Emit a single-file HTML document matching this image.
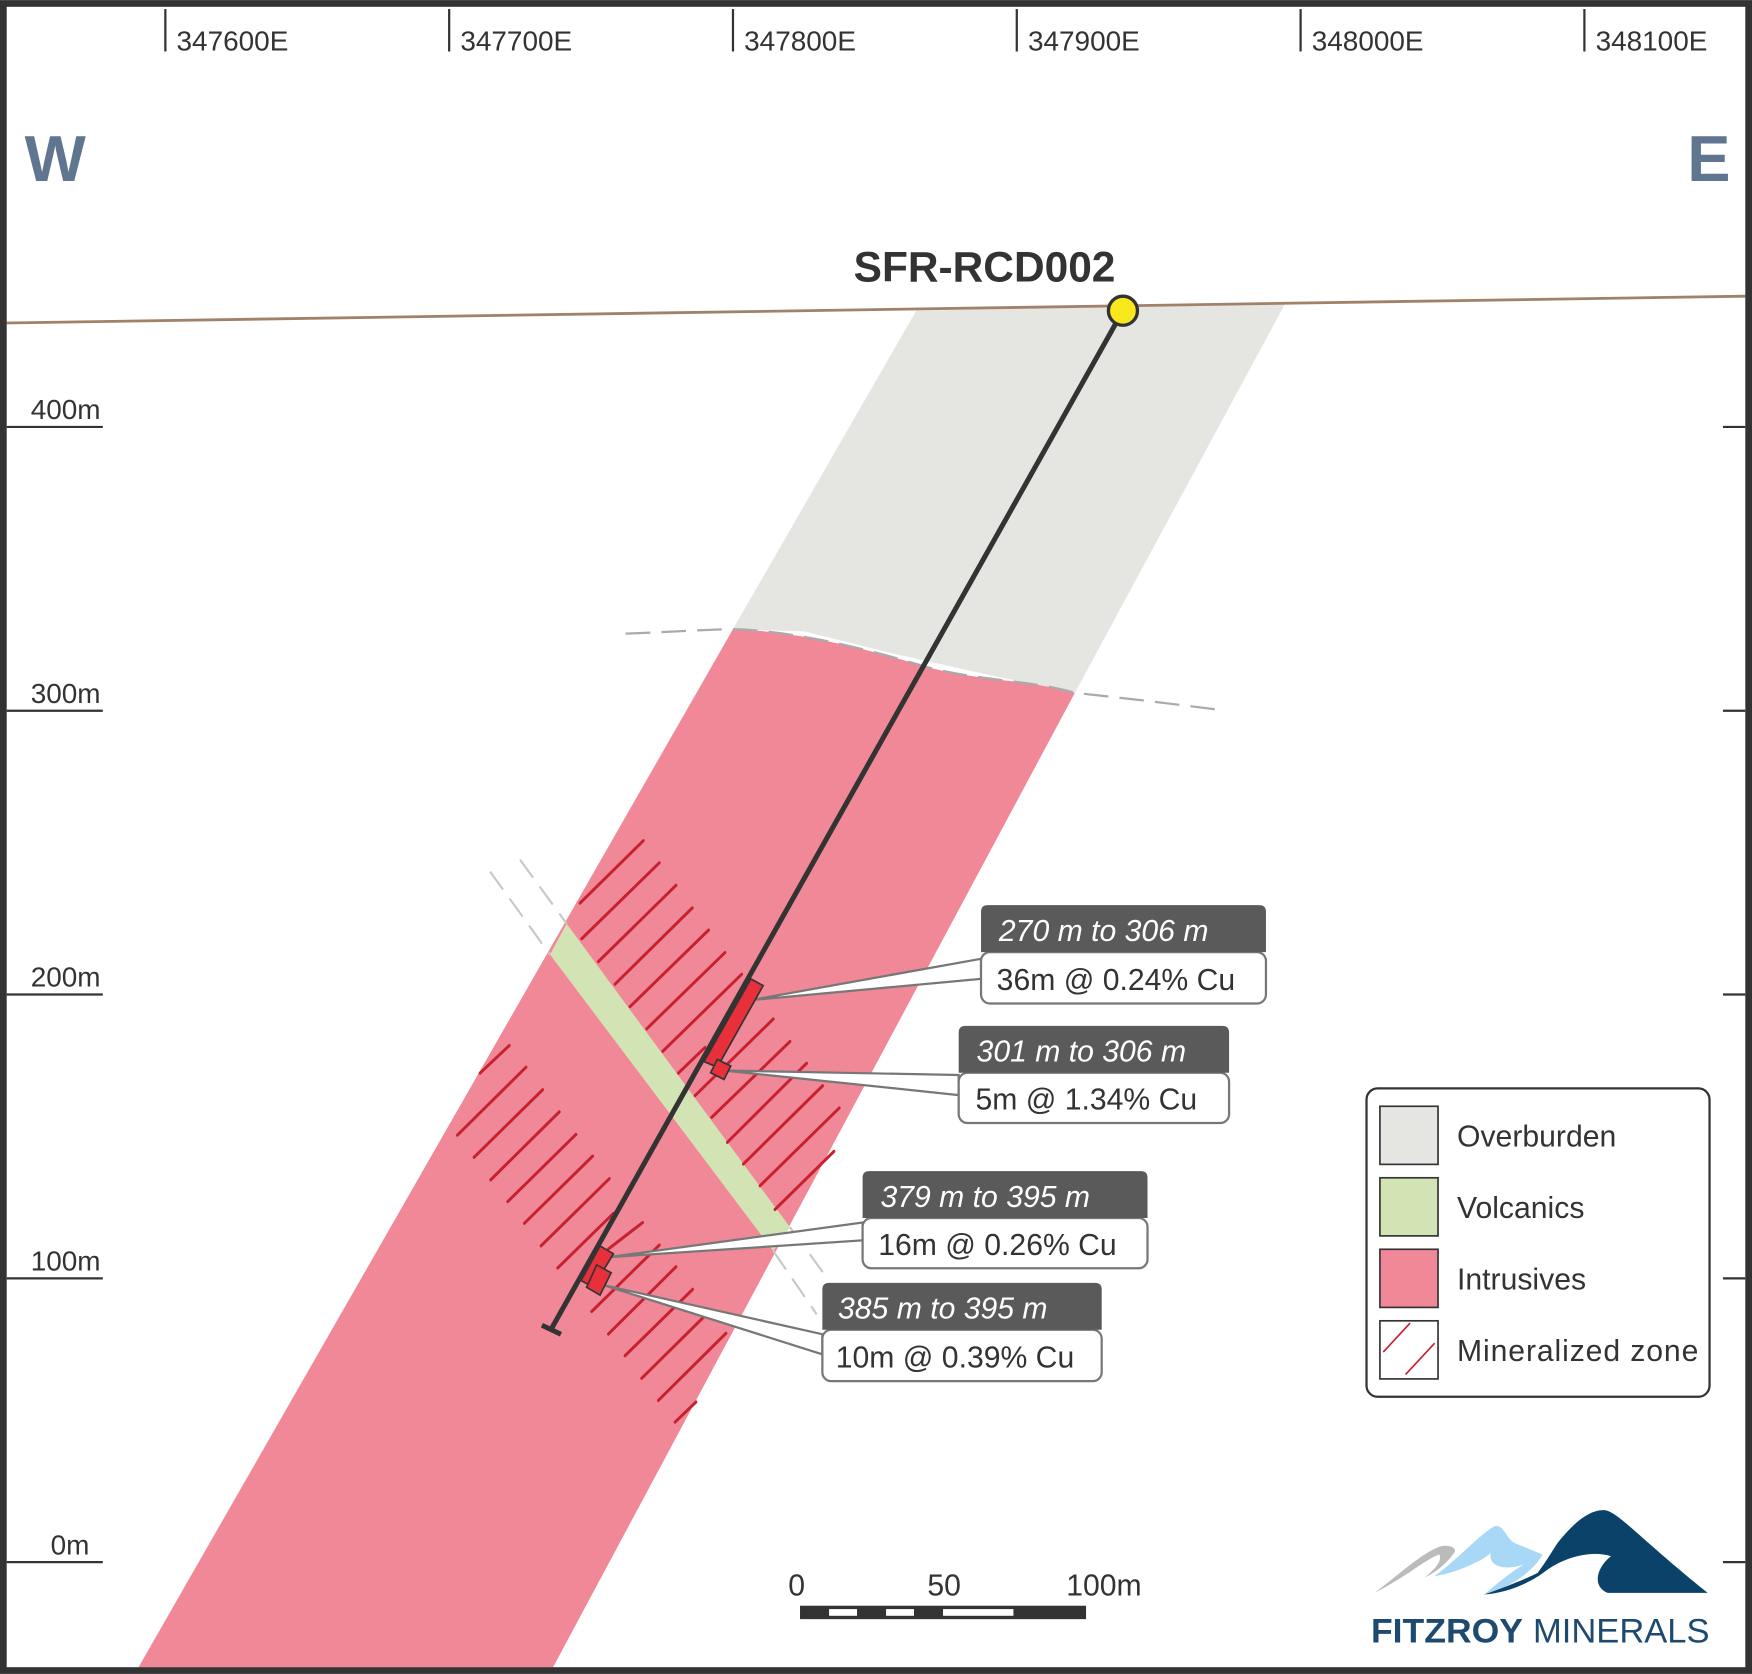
<!DOCTYPE html>
<html><head><meta charset="utf-8"><style>
html,body{margin:0;padding:0;background:#fff}
svg{display:block}
text{font-family:"Liberation Sans",sans-serif}
</style></head><body>
<svg width="1752" height="1674" viewBox="0 0 1568 1498" xmlns="http://www.w3.org/2000/svg">
<rect x="0" y="0" width="1568" height="1498" fill="#fff"/>
<g stroke="#333" stroke-width="2">
<line x1="148" y1="8" x2="148" y2="46"/><line x1="402" y1="8" x2="402" y2="46"/><line x1="656" y1="8" x2="656" y2="46"/><line x1="910" y1="8" x2="910" y2="46"/><line x1="1164" y1="8" x2="1164" y2="46"/><line x1="1418" y1="8" x2="1418" y2="46"/>
</g>
<g font-size="25" fill="#333">
<text x="158" y="45">347600E</text><text x="412" y="45">347700E</text><text x="666" y="45">347800E</text><text x="920" y="45">347900E</text><text x="1174" y="45">348000E</text><text x="1428" y="45">348100E</text>
</g>
<text x="22" y="162" font-size="58" font-weight="bold" fill="#5f7590">W</text>
<text x="1510" y="162" font-size="58" font-weight="bold" fill="#5f7590">E</text>
<polygon points="820,278 1150,272 962,620 890,605 800,585 720,565 656,563" fill="#e5e5e1"/>
<path d="M656,563 C720,565 790,585 830,597 C880,610 920,608 962,620 L495,1492 L124,1492 Z" fill="#f08898"/>
<path d="M560,567 C610,565 640,563 656,563 C720,565 790,585 830,597 C880,610 920,608 962,620 C1010,625 1050,630 1090,635" fill="none" stroke="#aaa" stroke-width="2" stroke-dasharray="22,10"/>
<g transform="scale(0.895) translate(440,820) scale(0.3333,0.3953)">
<polygon points="330,340 380,262 1050,1030 1000,1090" fill="#d3e4b4"/>
<g stroke="#c8c8c8" stroke-width="6" stroke-dasharray="60,30" fill="none">
<line x1="150" y1="130" x2="330" y2="340"/><line x1="240" y1="100" x2="380" y2="262"/>
<line x1="1000" y1="1090" x2="1130" y2="1250"/><line x1="1050" y1="1030" x2="1150" y2="1145"/>
</g>
<g stroke="#c8202e" stroke-width="8" stroke-linecap="round">
<line x1="420" y1="210" x2="610" y2="52"/><line x1="425" y1="300" x2="658" y2="108"/><line x1="475" y1="358" x2="708" y2="165"/><line x1="525" y1="415" x2="757" y2="222"/><line x1="570" y1="472" x2="806" y2="278"/><line x1="620" y1="528" x2="855" y2="335"/><line x1="668" y1="585" x2="905" y2="390"/><line x1="715" y1="640" x2="795" y2="575"/><line x1="765" y1="697" x2="1000" y2="503"/><line x1="815" y1="752" x2="1050" y2="560"/><line x1="862" y1="815" x2="1100" y2="615"/><line x1="910" y1="870" x2="1148" y2="672"/><line x1="960" y1="925" x2="1198" y2="728"/><line x1="1005" y1="985" x2="1182" y2="838"/>
<line x1="120" y1="640" x2="208" y2="570"/><line x1="52" y1="797" x2="258" y2="625"/><line x1="102" y1="853" x2="308" y2="682"/><line x1="152" y1="910" x2="358" y2="738"/><line x1="203" y1="965" x2="408" y2="795"/><line x1="253" y1="1020" x2="458" y2="850"/><line x1="303" y1="1077" x2="508" y2="907"/><line x1="353" y1="1133" x2="520" y2="995"/>
<line x1="505" y1="1085" x2="608" y2="1018"/><line x1="455" y1="1243" x2="658" y2="1075"/><line x1="505" y1="1300" x2="708" y2="1130"/><line x1="555" y1="1355" x2="758" y2="1187"/><line x1="605" y1="1412" x2="808" y2="1243"/><line x1="655" y1="1468" x2="858" y2="1298"/><line x1="705" y1="1523" x2="768" y2="1472"/>
</g>
</g>
<line x1="6" y1="289" x2="1562" y2="265" stroke="#a0826a" stroke-width="2.5"/>
<g fill="#fff" stroke="#777" stroke-width="2">
<polygon points="878,858 878,876 672,895"/>
<polygon points="858,962 858,980 648,958"/>
<polygon points="772,1094 772,1110 545,1125"/>
<polygon points="736,1194 736,1212 540,1150"/>
</g>
<line x1="1005" y1="278" x2="493" y2="1190" stroke="#333" stroke-width="4.5"/>
<line x1="485" y1="1186" x2="502" y2="1194" stroke="#333" stroke-width="4.5"/>
<g fill="#e8303a" stroke="#333" stroke-width="1.5">
<polygon points="672,876 683,882 642,955 630,950"/>
<polygon points="642,948 654,954 648,966 636,960"/>
<polygon points="537,1115 549,1122 531,1152 520,1146"/>
<polygon points="534,1132 547,1139 537,1159 525,1152"/>
</g>
<circle cx="1005" cy="278" r="13" fill="#f7e81c" stroke="#333" stroke-width="3"/>
<text x="764" y="252" font-size="38" font-weight="bold" fill="#333">SFR-RCD002</text>
<g font-size="27">
<rect x="878" y="852" width="255" height="46" rx="8" fill="#fff" stroke="#777" stroke-width="2"/>
<path d="M878,852 V816 Q878,810 884,810 H1127 Q1133,810 1133,816 V852 Z" fill="#5a5a5a"/>
<text x="894" y="842" fill="#fff" font-style="italic">270 m to 306 m</text>
<text x="892" y="886" fill="#333">36m @ 0.24% Cu</text>
<rect x="858" y="960" width="242" height="45" rx="8" fill="#fff" stroke="#777" stroke-width="2"/>
<path d="M858,960 V924 Q858,918 864,918 H1094 Q1100,918 1100,924 V960 Z" fill="#5a5a5a"/>
<text x="874" y="950" fill="#fff" font-style="italic">301 m to 306 m</text>
<text x="873" y="993" fill="#333">5m @ 1.34% Cu</text>
<rect x="772" y="1090" width="255" height="45" rx="8" fill="#fff" stroke="#777" stroke-width="2"/>
<path d="M772,1090 V1054 Q772,1048 778,1048 H1021 Q1027,1048 1027,1054 V1090 Z" fill="#5a5a5a"/>
<text x="788" y="1080" fill="#fff" font-style="italic">379 m to 395 m</text>
<text x="786" y="1123" fill="#333">16m @ 0.26% Cu</text>
<rect x="736" y="1190" width="250" height="46" rx="8" fill="#fff" stroke="#777" stroke-width="2"/>
<path d="M736,1190 V1154 Q736,1148 742,1148 H980 Q986,1148 986,1154 V1190 Z" fill="#5a5a5a"/>
<text x="750" y="1180" fill="#fff" font-style="italic">385 m to 395 m</text>
<text x="748" y="1224" fill="#333">10m @ 0.39% Cu</text>
</g>
<g stroke="#333" stroke-width="2">
<line x1="6" y1="382" x2="92" y2="382"/><line x1="6" y1="636" x2="92" y2="636"/><line x1="6" y1="890" x2="92" y2="890"/><line x1="6" y1="1144" x2="92" y2="1144"/><line x1="6" y1="1398" x2="92" y2="1398"/>
<line x1="1542" y1="382" x2="1562" y2="382"/><line x1="1542" y1="636" x2="1562" y2="636"/><line x1="1542" y1="890" x2="1562" y2="890"/><line x1="1542" y1="1144" x2="1562" y2="1144"/><line x1="1542" y1="1398" x2="1562" y2="1398"/>
</g>
<g font-size="25" fill="#333" text-anchor="end">
<text x="90" y="375">400m</text><text x="90" y="629">300m</text><text x="90" y="883">200m</text><text x="90" y="1137">100m</text><text x="80" y="1391">0m</text>
</g>
<rect x="1223" y="974" width="307" height="276" rx="10" fill="#fff" stroke="#333" stroke-width="2"/>
<rect x="1235" y="990" width="52" height="52" fill="#e5e5e1" stroke="#333" stroke-width="1.5"/>
<rect x="1235" y="1054" width="52" height="52" fill="#d3e4b4" stroke="#333" stroke-width="1.5"/>
<rect x="1235" y="1118" width="52" height="52" fill="#f08898" stroke="#333" stroke-width="1.5"/>
<rect x="1235" y="1182" width="52" height="52" fill="#fff" stroke="#333" stroke-width="1.5"/>
<g stroke="#c8202e" stroke-width="1.5"><line x1="1238" y1="1210" x2="1262" y2="1184"/><line x1="1258" y1="1230" x2="1284" y2="1202"/></g>
<g font-size="27" fill="#333">
<text x="1304" y="1026">Overburden</text><text x="1304" y="1090">Volcanics</text><text x="1304" y="1154">Intrusives</text><text x="1304" y="1218" textLength="216">Mineralized zone</text>
</g>
<g font-size="27" fill="#333" text-anchor="middle"><text x="713" y="1428">0</text><text x="845" y="1428">50</text><text x="988" y="1428">100m</text></g>
<rect x="716" y="1437" width="256" height="12" fill="#333"/>
<rect x="742" y="1440" width="25" height="6" fill="#fff"/><rect x="793" y="1440" width="25" height="6" fill="#fff"/><rect x="844" y="1440" width="63" height="6" fill="#fff"/>
<g transform="translate(1215,1330) scale(0.2984)">
<path d="M50,320 C120,270 190,200 250,180 C275,175 300,185 290,200 C260,240 230,260 200,275 C230,250 255,225 245,205 C210,215 150,270 50,320 Z" fill="#bbb"/>
<path d="M230,270 C300,220 360,150 410,120 C440,115 440,150 470,170 L555,205 C530,250 470,300 380,325 C420,290 470,250 500,235 C440,255 390,240 400,200 C380,220 300,260 230,270 Z" fill="#a8d8f5"/>
<path d="M380,325 C450,300 500,280 540,260 C570,220 580,200 600,170 C640,120 690,70 740,72 C780,75 850,160 1050,320 L750,320 C700,300 720,240 760,210 C700,190 620,215 570,250 C520,290 450,320 380,325 Z" fill="#0b4269"/>
</g>
<text x="1227" y="1470" font-size="31" font-weight="bold" fill="#1d4a6e" textLength="136" lengthAdjust="spacingAndGlyphs">FITZROY</text>
<text x="1372" y="1470" font-size="31" fill="#1d4a6e" textLength="158" lengthAdjust="spacingAndGlyphs">MINERALS</text>
<rect x="3" y="3" width="1562" height="1492" fill="none" stroke="#333" stroke-width="6"/>
</svg>
</body></html>
